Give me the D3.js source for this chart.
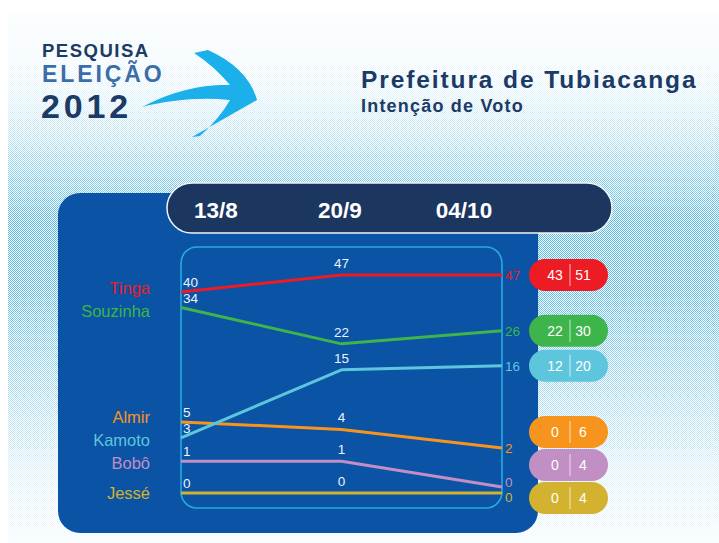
<!DOCTYPE html>
<html><head><meta charset="utf-8">
<script src="https://cdn.jsdelivr.net/npm/d3@7"></script>
<style>body{margin:0;background:#fff}svg{display:block}</style>
</head><body>
<script>
// ---- data ----
const dates = ["13/8", "20/9", "04/10"];
const candidates = ["Tinga", "Souzinha", "Almir", "Kamoto", "Bobô", "Jessé"];
const tinga = [40, 47, 47];
const souzinha = [34, 22, 26];
const almir = [5, 4, 2];
const kamoto = [3, 15, 16];
const bobo = [1, 1, 0];
const jesse = [0, 0, 0];
const rangeLow = [43, 22, 0, 12, 0, 0];
const rangeHigh = [51, 30, 6, 20, 4, 4];
const colors = ["#ed1c24", "#3db54a", "#f7941d", "#5ec6dc", "#c18fc3", "#d2b22f"];
const title = "Prefeitura de Tubiacanga";
const subtitle = "Intenção de Voto";
const logoLines = ["PESQUISA", "ELEIÇÃO", "2012"];

const seriesValues = [tinga, souzinha, almir, kamoto, bobo, jesse];
const series = candidates.map((name, i) => ({
  name, values: seriesValues[i], color: colors[i], low: rangeLow[i], high: rangeHigh[i], idx: i
}));

// ---- layout ----
const W = 719, H = 543;
const FONT = "'Liberation Sans', Arial, Helvetica, sans-serif";
const box = {x0: 181, x1: 502, y0: 247, y1: 508};

const svg = d3.select("body").append("svg").attr("width", W).attr("height", H)
  .style("font-family", FONT);
const defs = svg.append("defs");

// halftone background
const pat = defs.append("pattern").attr("id", "dots").attr("patternUnits", "userSpaceOnUse")
  .attr("width", 2).attr("height", 2);
pat.append("rect").attr("width", 2).attr("height", 2).attr("fill", "#fff");
pat.append("rect").attr("x", 0).attr("y", 0).attr("width", 1).attr("height", 1).attr("fill", "#42b4e8");
pat.append("rect").attr("x", 1).attr("y", 1).attr("width", 1).attr("height", 1).attr("fill", "#42b4e8");
const fade = defs.append("linearGradient").attr("id", "fade").attr("gradientUnits", "userSpaceOnUse")
  .attr("x1", 0).attr("x2", 0).attr("y1", 12).attr("y2", H);
[[0, 0.96], [0.12, 0.9], [0.22, 0.7], [0.31, 0.35], [0.41, 0.1], [0.55, 0.2], [0.72, 0.55], [0.87, 0.82], [1, 0.94]]
  .forEach(([o, a]) => fade.append("stop").attr("offset", o).attr("stop-color", "#fff").attr("stop-opacity", a));

svg.append("rect").attr("width", W).attr("height", H).attr("fill", "#fff");
svg.append("rect").attr("x", 8).attr("y", 12).attr("width", W - 8).attr("height", H - 12).attr("fill", "url(#dots)");
svg.append("rect").attr("x", 8).attr("y", 12).attr("width", W - 8).attr("height", H - 12).attr("fill", "url(#fade)");

// logo
const logo = svg.append("g");
logo.append("text").attr("x", 42).attr("y", 56.5).text(logoLines[0])
  .attr("font-weight", "bold").attr("font-size", 18.5).attr("letter-spacing", 1.5).attr("fill", "#1b3a66");
logo.append("text").attr("x", 42).attr("y", 81.5).text(logoLines[1])
  .attr("font-weight", "bold").attr("font-size", 23).attr("letter-spacing", 2.9).attr("fill", "#3b6ea9");
logo.append("text").attr("x", 41).attr("y", 117.5).text(logoLines[2])
  .attr("font-weight", "bold").attr("font-size", 34).attr("letter-spacing", 3.8).attr("fill", "#1b3a66");
logo.append("path")
  .attr("d", "M142,107 C165,95 195,84 230,85 Q214,66 194,53 L208,50 Q248,68 257,100 L192,137 L200,136 Q220,118 230,100 C200,97 170,100 142,107 Z")
  .attr("fill", "#1bb0e9");

// titles
svg.append("text").attr("x", 361).attr("y", 88).text(title)
  .attr("font-weight", "bold").attr("font-size", 24.5).attr("letter-spacing", 1.9).attr("fill", "#1b3a66");
svg.append("text").attr("x", 361).attr("y", 112).text(subtitle)
  .attr("font-weight", "bold").attr("font-size", 18).attr("letter-spacing", 1.2).attr("fill", "#1b3a66");

// panel + header
svg.append("rect").attr("x", 58).attr("y", 193).attr("width", 480).attr("height", 340).attr("rx", 22)
  .attr("fill", "#0a53a5");
svg.append("rect").attr("x", 167).attr("y", 183).attr("width", 445).attr("height", 50).attr("rx", 25)
  .attr("fill", "#1b365f").attr("stroke", "#f2f4f8").attr("stroke-width", 1.5);

const xh = d3.scalePoint().domain(dates).range([216, 464]);
svg.append("g").selectAll("text").data(dates).join("text")
  .attr("x", d => xh(d)).attr("y", 218).attr("text-anchor", "middle")
  .attr("font-weight", "bold").attr("font-size", 22.5).attr("fill", "#fff").text(d => d);

svg.append("rect").attr("x", box.x0).attr("y", box.y0).attr("width", box.x1 - box.x0).attr("height", box.y1 - box.y0)
  .attr("rx", 16).attr("fill", "none").attr("stroke", "#2aa9e2").attr("stroke-width", 1.6);

// scales
const allVals = seriesValues.flat();
const x = d3.scalePoint().domain(dates).range([box.x0, box.x1]);
const y = d3.scaleSqrt().domain([0, d3.max(allVals)]).range([box.y1 - 15, box.y0 + 28]);

// tie offsets so equal values stay visible
const offs = series.map(() => dates.map(() => 0));
dates.forEach((d, j) => {
  const groups = d3.group(series, s => s.values[j]);
  groups.forEach(g => {
    g.forEach((s, k) => { offs[s.idx][j] = -(g.length - 1 - k) * 6; });
  });
});
const py = (s, j) => y(s.values[j]) + offs[s.idx][j];

function spread(items, gap, maxY) {
  items.sort((a, b) => a.y - b.y);
  for (let it = 0; it < 300; it++) {
    for (let i = 1; i < items.length; i++) {
      const d = items[i].y - items[i - 1].y;
      if (d < gap) { const sft = (gap - d) / 2; items[i - 1].y -= sft; items[i].y += sft; }
    }
  }
  if (maxY != null) {
    const n = items.length;
    if (items[n - 1].y > maxY) items[n - 1].y = maxY;
    for (let i = n - 2; i >= 0; i--) if (items[i].y > items[i + 1].y - gap) items[i].y = items[i + 1].y - gap;
  }
  return items;
}

// lines
const line = d3.line().x((d, j) => x(dates[j])).y(d => d);
svg.append("g").selectAll("path").data(series).join("path")
  .attr("d", s => line(s.values.map((v, j) => py(s, j))))
  .attr("fill", "none").attr("stroke", s => s.color).attr("stroke-width", 3)
  .attr("stroke-linejoin", "round");

// start and middle labels
const vl = svg.append("g").attr("font-size", 13.5).attr("fill", "#eef2fa");
series.forEach(s => {
  vl.append("text").attr("x", x(dates[0]) + 2).attr("y", py(s, 0) - 5).text(s.values[0]);
  vl.append("text").attr("x", x(dates[1])).attr("y", py(s, 1) - 7).attr("text-anchor", "middle").text(s.values[1]);
});

// end labels
const last = dates.length - 1;
const endItems = spread(series.map(s => ({s, y: py(s, last)})), 14.5);
svg.append("g").selectAll("text").data(endItems).join("text")
  .attr("x", x(dates[last]) + 3).attr("y", d => d.y).attr("dy", "0.35em")
  .attr("font-size", 13.5).attr("fill", d => d.s.color).text(d => d.s.values[last]);

// left names
const nameItems = spread(series.map(s => ({s, y: py(s, 0)})), 23);
svg.append("g").selectAll("text").data(nameItems).join("text")
  .attr("x", 150).attr("y", d => d.y).attr("dy", "0.35em").attr("text-anchor", "end")
  .attr("font-size", 16.5).attr("fill", d => d.s.color).text(d => d.s.name);

// range pills
const pillItems = spread(series.map(s => ({s, y: py(s, last)})), 33, box.y1 - 10);
const pills = svg.append("g").selectAll("g").data(pillItems).join("g")
  .attr("transform", d => `translate(529,${d.y})`);
pills.append("rect").attr("x", 0).attr("y", -16).attr("width", 79).attr("height", 32).attr("rx", 16)
  .attr("fill", d => d.s.color);
pills.append("line").attr("x1", 41).attr("x2", 41).attr("y1", -11).attr("y2", 11)
  .attr("stroke", "rgba(255,255,255,0.6)").attr("stroke-width", 1.2);
pills.append("text").attr("x", 26).attr("dy", "0.35em").attr("text-anchor", "middle")
  .attr("font-size", 14).attr("fill", "#fff").text(d => d.s.low);
pills.append("text").attr("x", 54).attr("dy", "0.35em").attr("text-anchor", "middle")
  .attr("font-size", 14).attr("fill", "#fff").text(d => d.s.high);
</script>
</body></html>
